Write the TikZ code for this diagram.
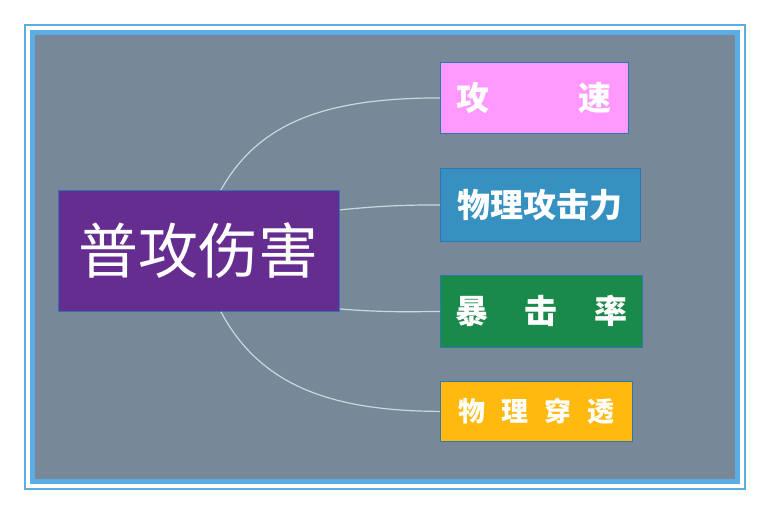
\documentclass[tikz,border=0pt]{standalone}
\usepackage{fontspec}
\newfontfamily\cjk{Noto Sans CJK SC}
\usepackage{tikz}
\usetikzlibrary{positioning}
\definecolor{Frame}{HTML}{5DADE2}
\definecolor{Slate}{HTML}{778899}
\definecolor{Edge}{HTML}{2E75B6}
\definecolor{Purple}{HTML}{662D91}
\definecolor{Pink}{HTML}{FF99FF}
\definecolor{Teal}{HTML}{3690C0}
\definecolor{Green}{HTML}{1A8A4A}
\definecolor{Amber}{HTML}{FFB90F}
\definecolor{Link}{HTML}{C8D8E0}

\begin{document}
\begin{tikzpicture}[x=1pt,y=-1pt,
        leaf/.style={draw=Edge, line width=0.8pt, anchor=north west, text=white, font=\cjk\bfseries\fontsize{33}{33}\selectfont, inner sep=0pt},
        link/.style={draw=Link, line width=1.2pt}]
        \useasboundingbox (0,0) rectangle (770,514);
        \fill[white] (0,0) rectangle (770,514);
        \draw[Frame, line width=2pt] (25,25) rectangle (745,489);
        \fill[Frame] (30,30) rectangle (740,484);
        \fill[Slate] (35,35) rectangle (735,479);

        \node[draw=Edge, line width=0.8pt, fill=Purple, anchor=north west, minimum width=281pt, minimum height=121pt, inner sep=0pt, text=white, font=\cjk\fontsize{60}{60}\selectfont] (hub) at (58,190) {普攻伤害};
        \node[leaf, fill=Pink, minimum width=188pt, minimum height=71pt] (speed) at (440,62) {攻\hspace{2.7em}速};
        \node[leaf, fill=Teal, minimum width=200pt, minimum height=73pt] (atk) at (440,168) {物理攻击力};
        \node[leaf, fill=Green, minimum width=202pt, minimum height=72pt] (crit) at (440,275) {暴\hspace{1.1em}击\hspace{1.1em}率};
        \node[leaf, fill=Amber, minimum width=192pt, minimum height=60pt, font=\cjk\bfseries\fontsize{27}{27}\selectfont] (pen) at (440,381) {物\hspace{0.6em}理\hspace{0.6em}穿\hspace{0.6em}透};

        % branches
        \draw[link] ([xshift=22pt]hub.north) .. controls (260,120) and (330,98) .. (speed.west);
        \draw[link] ([yshift=41pt]hub.east) .. controls (380,206) and (400,205) .. (atk.west);
        \draw[link] ([yshift=-119pt]hub.north east) .. controls (380,312) and (400,312) .. (crit.west);
        \draw[link] ([xshift=22pt]hub.south) .. controls (260,385) and (330,411) .. (pen.west);
\end{tikzpicture}
\end{document}
